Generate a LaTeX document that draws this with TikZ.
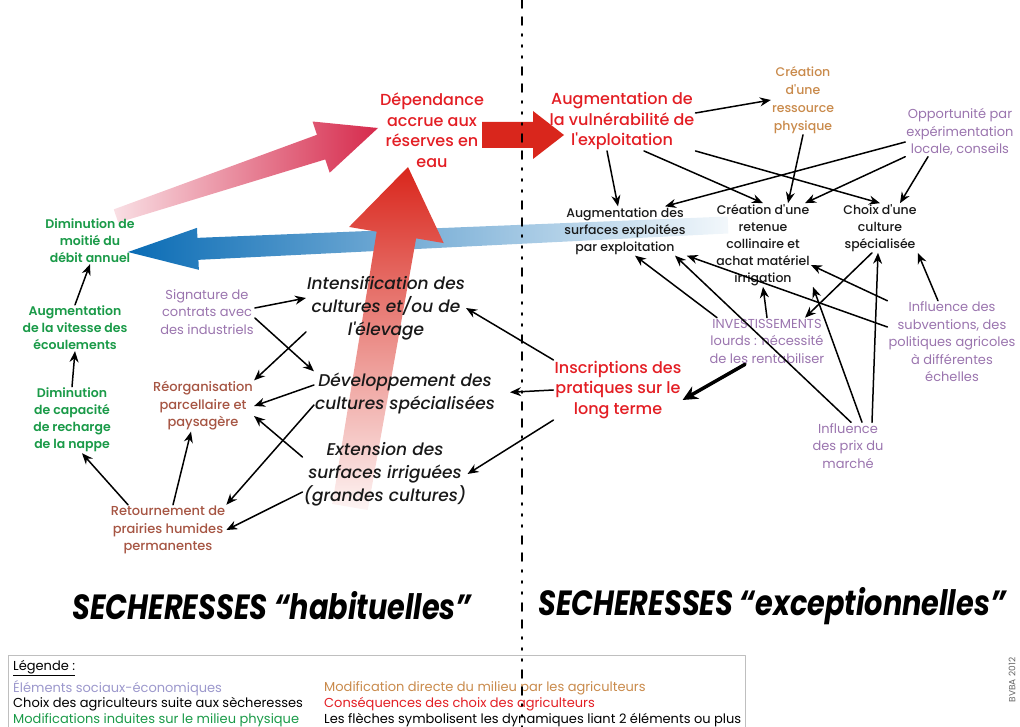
\documentclass[tikz,border=0pt]{standalone}
\usepackage{fontspec}
\usepackage{graphicx}
\setmainfont{Poppins}
\newfontfamily\moyen{Poppins}[UprightFont=* Medium,ItalicFont=* Medium Italic,BoldFont=* SemiBold,BoldItalicFont=* Bold Italic]
\usetikzlibrary{arrows.meta,calc,backgrounds}
\definecolor{rouge}{HTML}{E31E24}
\definecolor{vert}{HTML}{1A9A48}
\definecolor{violet}{HTML}{9A74AE}
\definecolor{brun}{HTML}{A65543}
\definecolor{tan}{HTML}{C98A4B}
\definecolor{lavande}{HTML}{9C98CC}
\definecolor{bleu}{HTML}{0A6CB5}
\definecolor{rose}{HTML}{D62A4C}
\definecolor{rougef}{HTML}{D9261C}
% grosse fleche: #1 ombrage, #2 queue, #3 pointe, #4 demi-largeur queue,
% #5 demi-largeur au col, #6 demi-largeur tete, #7 longueur tete
\newcommand{\grossefleche}[7]{%
  \coordinate (col) at ($(#3)!#7!(#2)$);
  \shade[#1] ($(#2)!#4!90:(#3)$) -- ($(col)!#5!90:(#3)$) -- ($(col)!#6!90:(#3)$)
    -- (#3) -- ($(col)!#6!-90:(#3)$) -- ($(col)!#5!-90:(#3)$) -- ($(#2)!#4!-90:(#3)$) -- cycle;}
\begin{document}
\begin{tikzpicture}[x=1pt,y=-1pt,line join=round,line cap=round,>={Stealth[length=11pt,width=9pt]}]
	\tikzset{every node/.style={align=center,inner sep=1pt}}
	\tikzset{rge/.style={text=rouge,font=\moyen\fontsize{16}{20.5}\selectfont},
		vrt/.style={text=vert,font=\moyen\bfseries\fontsize{12.5}{17}\selectfont},
		vio/.style={text=violet,font=\fontsize{13}{17.5}\selectfont},
		brn/.style={text=brun,font=\moyen\fontsize{13}{17.5}\selectfont},
		noir/.style={text=black!90,font=\moyen\fontsize{12.5}{17}\selectfont},
		choix/.style={text=black!90,font=\moyen\itshape\fontsize{17}{23}\selectfont},
		fl/.style={->,line width=1.5pt},
		leg/.style={anchor=west,font=\fontsize{13}{15}\selectfont}}
	\useasboundingbox (0,0) rectangle (1020,727);
	% consequences
	\node[rge] (dep) at (432,130) {Dépendance\\accrue aux\\réserves en\\eau};
	\node[rge] (vul) at (622,121) {Augmentation de\\la vulnérabilité de\\l'exploitation};
	\node[rge] (ins) at (618,390) {Inscriptions des\\pratiques sur le\\long terme};
	% cote droit
	\node[text=tan,font=\moyen\fontsize{12.5}{18}\selectfont] (res) at (803,100) {Création\\d'une\\ressource\\physique};
	\node[vio] (opp) at (960,132) {Opportunité par\\expérimentation\\locale, conseils};
	\node[noir] (surf) at (625,231) {Augmentation des\\surfaces exploitées\\par exploitation};
	\node[noir] (ret) at (763,245) {Création d'une\\retenue\\collinaire et\\achat matériel\\irrigation};
	\node[noir] (cho) at (880,228) {Choix d'une\\culture\\spécialisée};
	\node[vio] (inv) at (767,341) {INVESTISSEMENTS\\lourds : nécessité\\de les rentabiliser};
	\node[vio] (sub) at (952,342) {Influence des\\subventions, des\\politiques agricoles\\à différentes\\échelles};
	\node[vio] (prix) at (848,446) {Influence\\des prix du\\marché};
	% cote gauche
	\node[choix] (int) at (386,308) {Intensification des\\cultures et/ou de\\l'élevage};
	\node[choix] (dev) at (405,393) {Développement des\\cultures spécialisées};
	\node[choix] (ext) at (385,474) {Extension des\\surfaces irriguées\\(grandes cultures)};
	\node[vio] (sig) at (207,312) {Signature de\\contrats avec\\des industriels};
	\node[brn] (reo) at (203,406) {Réorganisation\\parcellaire et\\paysagère};
	\node[brn] (rtn) at (168,530) {Retournement de\\prairies humides\\permanentes};
	\node[vrt] (deb) at (90,241) {Diminution de\\moitié du\\débit annuel};
	\node[vrt] (vit) at (75,328) {Augmentation\\de la vitesse des\\écoulements};
	\node[vrt] (cap) at (72,420) {Diminution\\de capacité\\de recharge\\de la nappe};
	% grosses fleches
	\coordinate (q1) at (116,216);
	\coordinate (p1) at (378,128);
	\coordinate (q2) at (728,225);
	\coordinate (p2) at (128,252);
	\coordinate (q3) at (350,507);
	\coordinate (p3) at (408,167);
	\coordinate (q4) at (482,135);
	\coordinate (p4) at (564,135);
	\begin{scope}[on background layer]
		\grossefleche{left color=rose!15,right color=rose}{q1}{p1}{7pt}{13pt}{27pt}{60pt}
		\grossefleche{left color=bleu,right color=bleu!5}{q2}{p2}{8.5pt}{11pt}{21pt}{70pt}
		\grossefleche{bottom color=rougef!5,top color=rougef}{q3}{p3}{18pt}{20pt}{48pt}{69pt}
		\grossefleche{left color=rougef,right color=rougef}{q4}{p4}{13pt}{13pt}{24pt}{31pt}
	\end{scope}
	% fleches droite
	\draw[fl] ([yshift=8pt]vul.east) -- (res.west);
	\draw[fl] ([xshift=-15pt]vul.south) -- ([xshift=-7pt]surf.north);
	\draw[fl] ([xshift=22pt]vul.south) -- (ret.north);
	\draw[fl] (vul.south east) -- (cho.north);
	\draw[fl] (res.south) -- ([xshift=25pt]ret.north);
	\draw[fl] ([yshift=-10pt]opp.west) -- ([xshift=40pt]surf.north);
	\draw[fl] (opp.south west) -- ([xshift=42pt]ret.north);
	\draw[fl] ([xshift=-32pt]opp.south) -- ([xshift=20pt]cho.north);
	\draw[fl] ([xshift=-8pt]cho.south) -- ([xshift=38pt]inv.north);
	\draw[fl] ([xshift=24pt]prix.north) -- ([xshift=-2pt]cho.south);
	\draw[fl] ([xshift=-14pt]sub.north) -- (cho.south east);
	\draw[fl] (sub.north west) -- ([yshift=-20pt]ret.east);
	\draw[fl] ([yshift=15pt]sub.west) -- (surf.south east);
	\draw[fl] (inv.north) -- (ret.south);
	\draw[fl] ([xshift=-50pt]inv.north) -- ([xshift=10pt]surf.south);
	\draw[fl] ([xshift=3pt]prix.north) -- ([xshift=50pt]surf.south);
	\draw[fl] ([xshift=14pt]prix.north) -- ([xshift=50pt]ret.south);
	\draw[->,line width=3.5pt,>={Stealth[length=15pt,width=14pt]}] ([xshift=-22pt]inv.south) -- ([yshift=-10pt]ins.east);
	% fleches gauche
	\draw[fl] (ins.north west) -- (int.east);
	\draw[fl,shorten >=14pt] (ins.west) -- (dev.east);
	\draw[fl] (ins.south west) -- (ext.east);
	\draw[fl] ([yshift=4pt]sig.east) -- ([yshift=10pt]int.west);
	\draw[fl] ([yshift=-6pt]sig.east) -- (dev.north west);
	\draw[fl] ([yshift=-24pt]int.west) -- (reo.north east);
	\draw[fl] ([yshift=8pt]dev.west) -- (reo.east);
	\draw[fl] ([yshift=-12pt]dev.west) -- (rtn.north east);
	\draw[fl] ([yshift=17pt]ext.west) -- ([yshift=-10pt]reo.east);
	\draw[fl] ([yshift=-18pt]ext.west) -- (rtn.east);
	\draw[fl] ([xshift=5pt]rtn.north) -- ([xshift=-12pt]reo.south);
	\draw[fl] ([xshift=-40pt]rtn.north) -- ([xshift=10pt]cap.south);
	\draw[fl] (cap.north) -- (vit.south);
	\draw[fl] (vit.north) -- (deb.south);
	% titres
	\node[font=\bfseries\itshape\fontsize{35}{38}\selectfont] (hab) at (272,606) {\scalebox{0.82}[1]{SECHERESSES “habituelles”}};
	\node[font=\bfseries\itshape\fontsize{35}{38}\selectfont] (exc) at (772,606) {\scalebox{0.82}[1]{SECHERESSES “exceptionnelles”}};
	% legende
	\draw[black!25,line width=0.8pt] (8,655) rectangle (745,740);
	\node[leg] (lg) at (12,668) {\underline{Légende :}};
	\node[leg,text=lavande] (l1) at (12,688) {Éléments sociaux-économiques};
	\node[leg] (l2) at (12,704) {Choix des agriculteurs suite aux sècheresses};
	\node[leg,text=vert] (l3) at (12,720) {Modifications induites sur le milieu physique};
	\node[leg,text=tan] (l4) at (323,688) {Modification directe du milieu par les agriculteurs};
	\node[leg,text=rouge] (l5) at (323,704) {Conséquences des choix des agriculteurs};
	\node[leg] (l6) at (323,720) {Les flèches symbolisent les dynamiques liant 2 éléments ou plus};
	\node[rotate=90,text=black!60,font=\fontsize{9}{10}\selectfont] (bv) at (1012,680) {BVBA 2012};
	% separation
	\draw[line width=1.8pt,dash pattern=on 8pt off 9pt on 8pt off 9pt on 2pt off 9pt on 2pt off 9pt on 2pt off 9pt] (522,0) -- (522,727);
\end{tikzpicture}
\end{document}
